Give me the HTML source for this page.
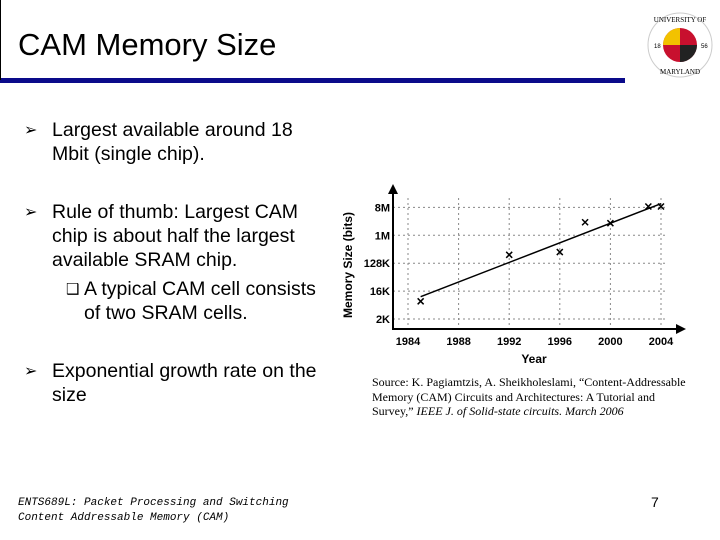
<!DOCTYPE html>
<html><head><meta charset="utf-8"><style>
body{margin:0;width:720px;height:540px;background:#fff;position:relative;overflow:hidden;font-family:"Liberation Sans",sans-serif;color:#000}
.a{position:absolute;white-space:nowrap}
.b{font-size:19.5px;line-height:24px}
.m{position:absolute;font-family:"DejaVu Sans",sans-serif;font-size:16px;line-height:24px}
.src{font-family:"Liberation Serif",serif;font-size:12px;line-height:14.5px}
.ft{font-family:"Liberation Mono",monospace;font-style:italic;font-size:11px;line-height:15px}
</style></head><body>
<div class="a" style="left:18px;top:27px;font-size:31px">CAM Memory Size</div>
<div class="a" style="left:0;top:78px;width:625px;height:5px;background:#0a0a8a"></div>
<div class="a" style="left:0;top:0;width:1px;height:80px;background:#000"></div>
<svg class="a" style="left:645px;top:10px" width="70" height="70" viewBox="0 0 70 70">
<circle cx="35" cy="35" r="32" fill="none" stroke="#ccc" stroke-width="1"/>
<circle cx="35" cy="35" r="17" fill="#c8102e"/>
<path d="M35 18 A17 17 0 0 0 18 35 L35 35Z" fill="#f2c200"/>
<path d="M35 52 A17 17 0 0 0 52 35 L35 35Z" fill="#222"/>
<text x="35" y="12" font-size="7" text-anchor="middle" font-family="Liberation Serif">UNIVERSITY OF</text>
<text x="35" y="64" font-size="7" text-anchor="middle" font-family="Liberation Serif">MARYLAND</text>
<text x="9" y="38" font-size="6">18</text><text x="56" y="38" font-size="6">56</text>
</svg>
<div class="m" style="left:24px;top:118px">➢</div>
<div class="a b" style="left:52px;top:118px">Largest available around 18<br>Mbit (single chip).</div>
<div class="m" style="left:24px;top:200px">➢</div>
<div class="a b" style="left:52px;top:200px">Rule of thumb: Largest CAM<br>chip is about half the largest<br>available SRAM chip.</div>
<div class="a" style="left:66px;top:277px;font-family:'DejaVu Sans';font-size:15px;line-height:24px">❑</div>
<div class="a b" style="left:84px;top:277px">A typical CAM cell consists<br>of two SRAM cells.</div>
<div class="m" style="left:24px;top:359px">➢</div>
<div class="a b" style="left:52px;top:359px">Exponential growth rate on the<br>size</div>
<div class="a src" style="left:372px;top:375px">Source: K. Pagiamtzis, A. Sheikholeslami, “Content-Addressable<br>Memory (CAM) Circuits and Architectures: A Tutorial and<br>Survey,” <i>IEEE J. of Solid-state circuits. March 2006</i></div>
<div class="a ft" style="left:18px;top:496px">ENTS689L: Packet Processing and Switching<br>Content Addressable Memory (CAM)</div>
<div class="a" style="left:651px;top:494px;font-size:14px">7</div>
<svg class="a" id="chart" style="left:0;top:0" width="720" height="540"></svg>
<script>
const xTicks=[1984,1988,1992,1996,2000,2004];
const yTickLabels=["2K","16K","128K","1M","8M"];
const yTickLog2=[11,14,17,20,23];
const pointYears=[1985,1992,1996,1998,2000,2003,2004];
const pointLog2=[12.9,17.9,18.2,21.4,21.3,23.1,23.1];
const trendYears=[1985,2004];
const trendLog2=[13.4,23.4];
const X=y=>408+(y-1984)*12.65;
const Y=v=>319-(v-11)*9.3;
const s=document.getElementById('chart'),NS='http://www.w3.org/2000/svg';
function mk(t,a,p){const e=document.createElementNS(NS,t);for(const k in a)e.setAttribute(k,a[k]);(p||s).appendChild(e);return e;}
xTicks.forEach(t=>{const l=mk('line',{x1:X(t),x2:X(t),y1:198,y2:329,stroke:'#888','stroke-dasharray':'2,3'});


const tx=mk('text',{x:X(t),y:345,'font-size':11,'font-weight':'bold','text-anchor':'middle'});tx.textContent=t;

});
yTickLog2.forEach((v,i)=>{const l=mk('line',{x1:393,x2:665,y1:Y(v),y2:Y(v),stroke:'#888','stroke-dasharray':'2,3'});


const tx=mk('text',{x:390,y:Y(v)+4,'font-size':11,'font-weight':'bold','text-anchor':'end'});tx.textContent=yTickLabels[i];

});
const ax=mk('path',{d:'M393 192 V329 H678',stroke:'#000','stroke-width':2,fill:'none'});


mk('path',{d:'M388 194 L393 184 L398 194Z'});mk('path',{d:'M676 324 L686 329 L676 334Z'});
const tr=mk('line',{x1:X(trendYears[0]),y1:Y(trendLog2[0]),x2:X(trendYears[1]),y2:Y(trendLog2[1]),stroke:'#000','stroke-width':1.5});


pointYears.forEach((yr,i)=>{const cx=X(yr),cy=Y(pointLog2[i]);
const p=mk('path',{d:`M${cx-3} ${cy-3}L${cx+3} ${cy+3}M${cx+3} ${cy-3}L${cx-3} ${cy+3}`,stroke:'#000','stroke-width':1.5});

});
const xt=mk('text',{x:534,y:363,'font-size':12,'font-weight':'bold','text-anchor':'middle'});xt.textContent='Year';


const yt=mk('text',{x:0,y:0,'font-size':12,'font-weight':'bold','text-anchor':'middle',transform:'translate(352,265) rotate(-90)'});yt.textContent='Memory Size (bits)';


</script>
</body></html>
